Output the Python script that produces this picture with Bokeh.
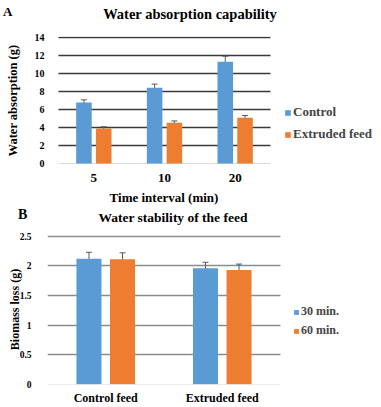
from bokeh.plotting import figure
from bokeh.models import (ColumnDataSource, Range1d, FixedTicker, Whisker, TeeHead,
                          Legend, LegendItem, Div, Grid)
from bokeh.transform import dodge
from bokeh.layouts import column
from bokeh.embed import file_html
from bokeh.resources import INLINE

# ---- data: panel A ----
times = ["5", "10", "20"]
control_abs = [6.8, 8.45, 11.35]
control_abs_err = [0.3, 0.4, 0.6]
extruded_abs = [3.9, 4.55, 5.1]
extruded_abs_err = [0.2, 0.2, 0.25]
ticks_a = [0, 2, 4, 6, 8, 10, 12, 14]

# ---- data: panel B ----
feeds = ["Control feed", "Extruded feed"]
loss_30 = [2.12, 1.96]
loss_30_err = [0.11, 0.10]
loss_60 = [2.11, 1.93]
loss_60_err = [0.11, 0.10]
ticks_b = [0, 0.5, 1, 1.5, 2, 2.5]
tick_labels_b = ["0", "0.5", "1", "1.5", "2", "2.5"]

BLUE = "#5B9BD5"
ORANGE = "#ED7D31"
FONT = "Liberation Serif"
W = 381
HAS_CB = "cross_bounds" in Grid.properties()


def style_axes(p, cats, ytick_size, ylab_size, xtick_size, ystandoff, ylab_standoff, xstandoff):
    p.outline_line_color = None
    p.xgrid.grid_line_color = None
    pos = [i + 0.5 for i in range(len(cats))]
    p.xaxis.ticker = FixedTicker(ticks=pos)
    p.xaxis.major_label_overrides = {x: c for x, c in zip(pos, cats)}
    for ax in (p.xaxis[0], p.yaxis[0]):
        ax.axis_line_color = None
        ax.major_tick_line_color = None
        ax.minor_tick_line_color = None
        ax.major_label_text_font = FONT
        ax.major_label_text_font_style = "bold"
        ax.major_label_text_color = "#000000"
        ax.axis_label_text_font = FONT
        ax.axis_label_text_font_style = "bold"
        ax.axis_label_text_color = "#000000"
    p.yaxis[0].major_label_text_font_size = ytick_size
    p.yaxis[0].axis_label_text_font_size = ylab_size
    p.yaxis[0].major_label_standoff = ystandoff
    p.yaxis[0].axis_label_standoff = ylab_standoff
    p.xaxis[0].major_label_text_font_size = xtick_size
    p.xaxis[0].major_label_standoff = xstandoff


def gridlines(p, ticks, ncat, color):
    p.ygrid.grid_line_color = None
    if HAS_CB:
        g = Grid(dimension=1, ticker=FixedTicker(ticks=ticks[1:]), grid_line_color=color,
                 grid_line_width=1.3, cross_bounds=(0, ncat))
        g0 = Grid(dimension=1, ticker=FixedTicker(ticks=ticks[:1]), grid_line_color="#d9d9d9",
                  grid_line_width=1, cross_bounds=(0, ncat))
        p.add_layout(g)
        p.add_layout(g0)
    else:
        p.segment(x0=[0] * (len(ticks) - 1), x1=[ncat] * (len(ticks) - 1), y0=ticks[1:], y1=ticks[1:],
                  line_color=color, line_width=1.3, level="underlay")
        p.segment(x0=[0], x1=[ncat], y0=ticks[:1], y1=ticks[:1], line_color="#d9d9d9", line_width=1,
                  level="underlay")


def bars(p, cats, v1, e1, v2, e2, off, width):
    src = ColumnDataSource(dict(cat=[i + 0.5 for i in range(len(cats))], v1=v1, v2=v2,
                                u1=[a + b for a, b in zip(v1, e1)], l1=[a - b for a, b in zip(v1, e1)],
                                u2=[a + b for a, b in zip(v2, e2)], l2=[a - b for a, b in zip(v2, e2)]))
    r1 = p.vbar(x=dodge("cat", -off), top="v1", width=width, source=src,
                fill_color=BLUE, line_color=None)
    r2 = p.vbar(x=dodge("cat", off), top="v2", width=width, source=src,
                fill_color=ORANGE, line_color=None)
    for b, u, l in ((-off, "u1", "l1"), (off, "u2", "l2")):
        w = Whisker(base=dodge("cat", b), upper=u, lower=l, source=src,
                    line_color="#595959", line_width=1,
                    upper_head=TeeHead(size=6, line_color="#595959", line_width=1),
                    lower_head=TeeHead(size=6, line_color="#595959", line_width=1))
        p.add_layout(w)
    return r1, r2


SPAN = "position:absolute;font-family:'Liberation Serif';font-weight:bold;color:#000;white-space:nowrap;"


def text_span(txt, center, top, size):
    return (f'<span style="{SPAN}left:0px;width:{2 * center}px;text-align:center;top:{top}px;'
            f'font-size:{size}px;line-height:{size}px;">{txt}</span>')


def letter_span(txt, left, top, size):
    return f'<span style="{SPAN}left:{left}px;top:{top}px;font-size:{size}px;line-height:{size}px;">{txt}</span>'


def header(parts, h):
    html = f'<div style="position:relative;width:{W}px;height:{h}px;margin:0;padding:0;">' + "".join(parts) + '</div>'
    return Div(text=html, width=W, height=h, margin=0)


# ================= Panel A =================
div_a = header([letter_span("A", 3, 5, 13),
                text_span("Water absorption capability", 190, 7, 14.5)], 30)

# frame spans x 47..381 (same left edge as panel B); categories start 11 px inside it
pa = figure(width=W, height=160, x_range=Range1d(-0.1557, 4.571),
            y_range=Range1d(-0.1, 14.15), output_backend="svg", toolbar_location=None,
            min_border_left=47, min_border_right=0, min_border_top=6, min_border_bottom=26,
            background_fill_color="white", border_fill_color="white", margin=0)
pa.yaxis.ticker = FixedTicker(ticks=ticks_a)
pa.yaxis.axis_label = "Water absorption (g)"
style_axes(pa, times, "10px", "12.5px", "13px", -3, 12, 3)
gridlines(pa, ticks_a, len(times), "#3a3a3a")
ra1, ra2 = bars(pa, times, control_abs, control_abs_err, extruded_abs, extruded_abs_err, 0.14, 0.22)
leg_a = Legend(items=[LegendItem(label="Control", renderers=[ra1]),
                      LegendItem(label="Extruded feed", renderers=[ra2])],
               location=(237, 22), orientation="vertical", padding=0, margin=0, spacing=6,
               glyph_width=7, glyph_height=7, label_height=16, label_standoff=2,
               label_text_font=FONT, label_text_font_style="bold", label_text_font_size="13px",
               border_line_color=None, background_fill_alpha=0)
pa.add_layout(leg_a)

# ================= Panel B =================
div_b = header([text_span("Time interval (min)", 164, 1, 13),
                letter_span("B", 18, 18, 14),
                text_span("Water stability of the feed", 173, 21, 13.5)], 38)

pb = figure(width=W, height=179, x_range=Range1d(0, 2.867),
            y_range=Range1d(-0.005, 2.53), output_backend="svg", toolbar_location=None,
            min_border_left=47, min_border_right=0, min_border_top=6, min_border_bottom=22,
            background_fill_color="white", border_fill_color="white", margin=0)
pb.yaxis.ticker = FixedTicker(ticks=ticks_b)
pb.yaxis.major_label_overrides = {t: s for t, s in zip(ticks_b, tick_labels_b)}
pb.yaxis.axis_label = "Biomass loss (g)"
style_axes(pb, feeds, "9.5px", "12px", "12px", 10, -5, 0)
gridlines(pb, ticks_b, len(feeds), "#8c8c8c")
rb1, rb2 = bars(pb, feeds, loss_30, loss_30_err, loss_60, loss_60_err, 0.144, 0.215)
leg_b = Legend(items=[LegendItem(label="30 min.", renderers=[rb1]),
                      LegendItem(label="60 min.", renderers=[rb2])],
               location=(246, 46), orientation="vertical", padding=0, margin=0, spacing=4,
               glyph_width=6, glyph_height=6, label_height=14, label_standoff=2,
               label_text_font=FONT, label_text_font_style="bold", label_text_font_size="12px",
               border_line_color=None, background_fill_alpha=0)
pb.add_layout(leg_b)

layout = column(div_a, pa, div_b, pb, spacing=0)
open("out.html", "w").write(file_html(layout, INLINE))
